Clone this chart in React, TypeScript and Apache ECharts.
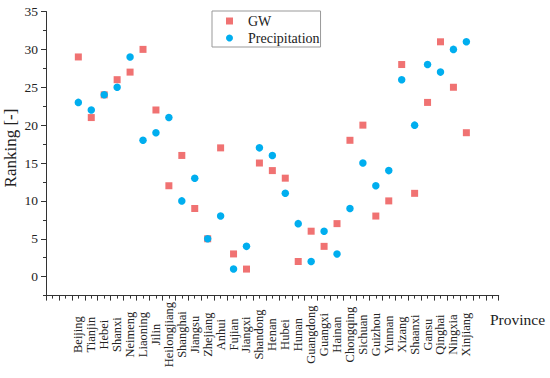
import React, { useEffect, useRef } from 'react';
import * as echarts from 'echarts';

const provinces = [
  'Beijing', 'Tianjin', 'Hebei', 'Shanxi', 'Neimeng', 'Liaoning', 'Jilin', 'Heilongjiang',
  'Shanghai', 'Jiangsu', 'Zhejiang', 'Anhui', 'Fujian', 'Jiangxi', 'Shandong', 'Henan',
  'Hubei', 'Hunan', 'Guangdong', 'Guangxi', 'Hainan', 'Chongqing', 'Sichuan', 'Guizhou',
  'Yunnan', 'Xizang', 'Shaanxi', 'Gansu', 'Qinghai', 'Ningxia', 'Xinjiang',
];
const gwRanking = [29, 21, 24, 26, 27, 30, 22, 12, 16, 9, 5, 17, 3, 1, 15, 14, 13, 2, 6, 4, 7, 18, 20, 8, 10, 28, 11, 23, 31, 25, 19];
const precipRanking = [23, 22, 24, 25, 29, 18, 19, 21, 10, 13, 5, 8, 1, 4, 17, 16, 11, 7, 2, 6, 3, 9, 15, 12, 14, 26, 20, 28, 27, 30, 31];
const seriesNames = ['GW', 'Precipitation'];
const yAxisTitle = 'Ranking [-]';
const xAxisTitle = 'Province';

const FONT = '"Liberation Serif", "Times New Roman", serif';
const AXIS = '#333';
const TEXT = '#222';

export default function App() {
  const ref = useRef<HTMLDivElement>(null);
  useEffect(() => {
    if (!ref.current) return;
    const chart = echarts.init(ref.current, undefined, { renderer: 'svg' });
    const option: any = {
      animation: false,
      backgroundColor: '#fff',
      textStyle: { fontFamily: FONT },
      grid: [
        { left: 46, right: 51.3, top: 11.5, bottom: 82.4 },
        { left: 46, right: 51.3, top: 11.5, bottom: 101.3 },
      ],
      legend: {
        orient: 'vertical',
        left: 212,
        top: 11,
        padding: [3, 1, 2, 14],
        itemGap: 3,
        itemWidth: 7,
        itemHeight: 7,
        borderColor: '#999',
        borderWidth: 1,
        textStyle: { fontFamily: FONT, fontSize: 14, color: TEXT, padding: [0, 0, 0, 10], lineHeight: 14 },
        data: [
          { name: seriesNames[0], icon: 'rect' },
          { name: seriesNames[1], icon: 'circle' },
        ],
      },
      xAxis: [
        {
          gridIndex: 0, type: 'value', position: 'bottom', min: -1.5, max: 33.5, interval: 0.5,
          axisLine: { show: true, onZero: false, lineStyle: { color: AXIS, width: 1 } },
          axisTick: { show: true, length: 3, lineStyle: { color: AXIS } },
          splitLine: { show: false },
          axisLabel: {
            rotate: 90, align: 'center', verticalAlign: 'middle', margin: 39,
            fontFamily: FONT, fontSize: 12.5, color: TEXT,
            formatter: (v: number) => (Number.isInteger(v) && v >= 1 && v <= provinces.length ? provinces[v - 1] : ''),
          },
        },
        {
          gridIndex: 0, type: 'value', position: 'bottom', min: -1.5, max: 33.5, interval: 1,
          axisLine: { show: false, onZero: false },
          axisTick: { show: true, length: 5, lineStyle: { color: AXIS } },
          splitLine: { show: false },
          axisLabel: { show: false },
        },
        { gridIndex: 1, type: 'value', show: false, min: 0, max: 1 },
      ],
      yAxis: [
        {
          gridIndex: 0, type: 'value', min: -2.5, max: 35, interval: 2.5,
          axisLine: { show: true, onZero: false, lineStyle: { color: AXIS, width: 1 } },
          axisTick: { show: true, length: 3, lineStyle: { color: AXIS } },
          splitLine: { show: false },
          axisLabel: { show: false },
        },
        {
          gridIndex: 1, type: 'value', min: 0, max: 35, interval: 5,
          axisLine: { show: false, onZero: false },
          axisTick: { show: true, length: 5, lineStyle: { color: AXIS } },
          splitLine: { show: false },
          axisLabel: { margin: 8, fontFamily: FONT, fontSize: 13.5, color: TEXT },
        },
      ],
      graphic: [
        {
          type: 'text', left: 490, top: 311,
          style: { text: xAxisTitle, font: `15.5px ${FONT}`, fill: TEXT },
        },
        {
          type: 'text', x: 10, y: 148, rotation: Math.PI / 2,
          style: {
            text: yAxisTitle, font: `17px ${FONT}`, fill: TEXT,
            align: 'center', verticalAlign: 'middle',
          },
        },
      ],
      series: [
        {
          name: seriesNames[0], type: 'scatter', xAxisIndex: 0, yAxisIndex: 0,
          symbol: 'rect', symbolSize: 7,
          itemStyle: { color: '#f07272', opacity: 1 },
          emphasis: { disabled: true },
          data: gwRanking.map((v, i) => [i + 1, v]),
        },
        {
          name: seriesNames[1], type: 'scatter', xAxisIndex: 0, yAxisIndex: 0,
          symbol: 'circle', symbolSize: 7.5,
          itemStyle: { color: '#00aeef', opacity: 1 },
          emphasis: { disabled: true },
          data: precipRanking.map((v, i) => [i + 1, v]),
        },
      ],
    };
    chart.setOption(option);
    return () => chart.dispose();
  }, []);
  return <div ref={ref} style={{ position: 'fixed', left: 0, top: 0, width: 550, height: 378 }} />;
}
